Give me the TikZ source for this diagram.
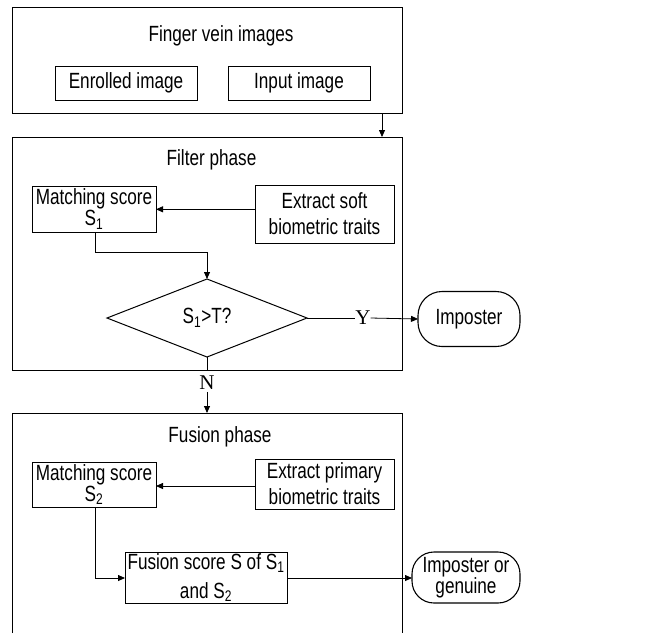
\documentclass[tikz,border=0pt]{standalone}
\usepackage{fontspec}
\setmainfont{Liberation Sans}[FakeStretch=0.78]
\newfontfamily\serifYN{Liberation Serif}
\usetikzlibrary{arrows.meta,shapes.geometric}
\begin{document}
\begin{tikzpicture}[x=1pt,y=-1pt,
  every node/.style={inner sep=0pt, outer sep=0pt},
  txt/.style={font=\fontsize{22}{25}\selectfont, align=center},
  group/.style={draw, line width=1pt, rectangle},
  proc/.style={draw, line width=1pt, rectangle, txt},
  term/.style={draw, line width=1.1pt, rectangle, rounded corners=24pt, txt},
  conn/.style={line width=0.8pt},
  arr/.style={line width=0.8pt, -{Triangle[length=7pt,width=6pt]}}
]
\useasboundingbox (0,0) rectangle (660,633);

% group boxes
\node[group, minimum width=390pt, minimum height=106pt] (top) at (207,60) {};
\node[group, minimum width=390pt, minimum height=233pt] (filter) at (207,253.5) {};
\coordinate (fusNW) at (12,413);
\coordinate (fusNE) at (402,413);
\draw[line width=1pt] (12,633) -- (fusNW) -- (fusNE) -- (402,633);
\coordinate (fusTop) at (207,413);

% titles
\node[txt] (t1) at (221,36) {Finger vein images};
\node[txt] (t2) at (211.5,160) {Filter phase};
\node[txt] (t3) at (220,437) {Fusion phase};

% top inner boxes
\node[proc, minimum width=142pt, minimum height=34pt] (enr) at (126,83) {Enrolled image};
\node[proc, minimum width=142pt, minimum height=34pt] (inp) at (299,83) {Input image};

% filter phase
\node[proc, minimum width=124pt, minimum height=46pt, font=\fontsize{22}{18}\selectfont] (ms1) at (94,209) {Matching score\\S\textsubscript{1}};
\node[proc, minimum width=139pt, minimum height=58pt, font=\fontsize{22}{26}\selectfont] (ext1) at (324.5,214) {Extract soft\\biometric traits};
\node[draw, line width=1pt, diamond, minimum width=200pt, minimum height=78pt, txt] (dia) at (207,318) {S\textsubscript{1}>T?};
\node[term, minimum width=102pt, minimum height=55pt] (imp) at (469,319) {Imposter};
\node[font=\serifYN\fontsize{21}{21}\selectfont] (Y) at (363,318) {Y};
\node[font=\serifYN\fontsize{21}{21}\selectfont, inner sep=2pt] (N) at (207,383) {N};

% fusion phase
\node[proc, minimum width=124pt, minimum height=45pt, font=\fontsize{22}{18}\selectfont] (ms2) at (94,484.5) {Matching score\\S\textsubscript{2}};
\node[proc, minimum width=139pt, minimum height=50pt, font=\fontsize{22}{26}\selectfont] (ext2) at (324.5,484) {Extract primary\\biometric traits};
\node[proc, minimum width=162pt, minimum height=51pt, font=\fontsize{22}{29}\selectfont] (fs) at (206,577.5) {Fusion score S of S\textsubscript{1}\\and S\textsubscript{2}};
\node[term, minimum width=108pt, minimum height=51pt, rounded corners=22pt, font=\fontsize{22}{20}\selectfont] (ig) at (466,577.5) {Imposter or\\genuine};

% connectors
\coordinate (a1) at (382,0);
\draw[arr] (top.south -| a1) -- (filter.north -| a1);
\draw[arr] (ext1.west |- 0,209.3) -- (ms1.east |- 0,209.3);
\coordinate (b1) at (95,252);
\draw[arr] (ms1.south -| b1) -- (b1) -| (dia.north);
\draw[conn] (dia.east) -- (Y.west);
\draw[arr] (Y.east) -- (imp.west);
\draw[conn] (dia.south) -- (filter.south -| dia.south);
\draw[arr] (N.south) -- (fusTop);
\draw[arr] (ext2.west |- 0,486) -- (ms2.east |- 0,486);
\coordinate (b2) at (95,578);
\draw[arr] (ms2.south -| b2) -- (b2) -- (fs.west |- b2);
\draw[arr] (fs.east |- b2) -- (ig.west |- b2);
\end{tikzpicture}
\end{document}
